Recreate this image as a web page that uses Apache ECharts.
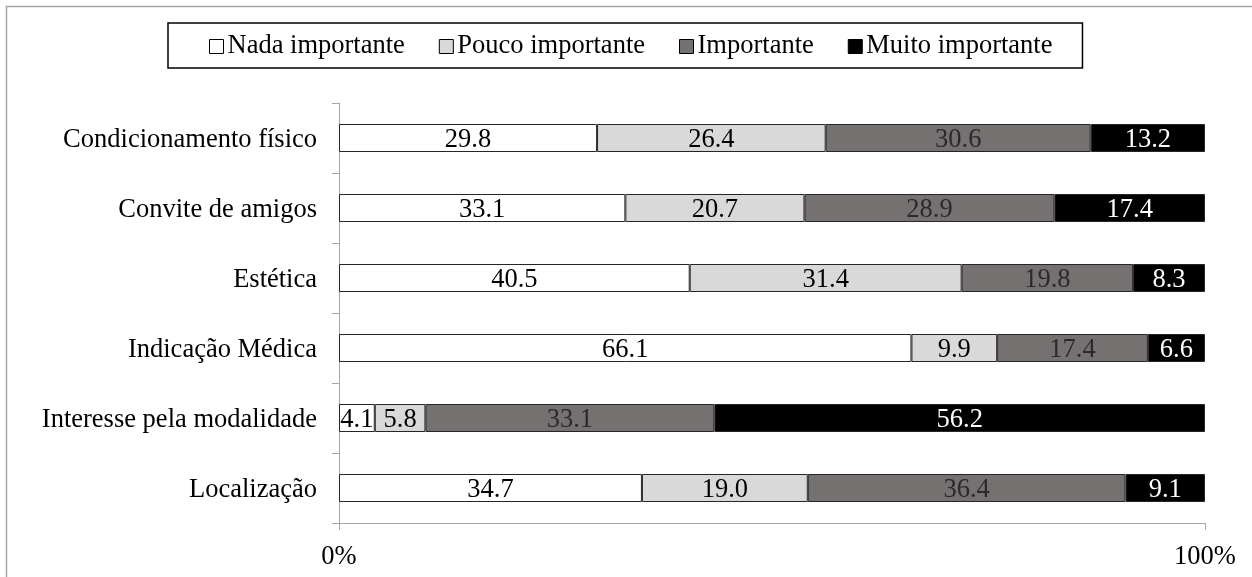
<!DOCTYPE html>
<html>
<head>
<meta charset="utf-8">
<script src="https://cdn.jsdelivr.net/npm/echarts@6/dist/echarts.min.js"></script>
<style>
  html, body { margin: 0; padding: 0; background: #fff; }
  #chart { width: 1252px; height: 577px; }
</style>
</head>
<body>
<div id="chart"></div>
<script>
// Motivos para a prática: percentual de respostas por grau de importância
const categories = [
  'Condicionamento físico',
  'Convite de amigos',
  'Estética',
  'Indicação Médica',
  'Interesse pela modalidade',
  'Localização'
];
const seriesNames = ['Nada importante', 'Pouco importante', 'Importante', 'Muito importante'];
const nadaImportante   = [29.8, 33.1, 40.5, 66.1, 4.1, 34.7];
const poucoImportante  = [26.4, 20.7, 31.4, 9.9, 5.8, 19.0];
const importante       = [30.6, 28.9, 19.8, 17.4, 33.1, 36.4];
const muitoImportante  = [13.2, 17.4, 8.3, 6.6, 56.2, 9.1];
const axisTickLabels = ['0%', '100%'];

const rawSeries = [nadaImportante, poucoImportante, importante, muitoImportante];
const fills = ['#ffffff', '#d9d9d9', '#767171', '#000000'];
const labelColors = ['#000000', '#000000', '#2a2a2a', '#ffffff'];

// 100% stacked: each row is scaled to its own total
const rowTotals = categories.map((_, i) => rawSeries.reduce((s, arr) => s + arr[i], 0));

const FONT = '"Liberation Serif", "Times New Roman", serif';
const FS = 26.5;

const series = rawSeries.map((arr, k) => ({
  name: seriesNames[k],
  type: 'bar',
  stack: 'total',
  barWidth: 28,
  data: arr.map((v, i) => ({ value: v / rowTotals[i] * 100, raw: v })),
  itemStyle: { color: fills[k], borderColor: '#262626', borderWidth: 1 },
  label: {
    show: true,
    position: 'inside',
    offset: [0, 2],
    fontFamily: FONT,
    fontSize: FS,
    color: labelColors[k],
    formatter: p => p.data.raw.toFixed(1)
  },
  emphasis: { disabled: true }
}));

const chart = echarts.init(document.getElementById('chart'), null, { renderer: 'canvas' });
chart.setOption({
  animation: false,
  backgroundColor: '#ffffff',
  textStyle: { fontFamily: FONT },
  graphic: [{
    type: 'rect',
    shape: { x: 6.5, y: 6.5, width: 1260, height: 600 },
    style: { fill: 'none', stroke: '#a6a6a6', lineWidth: 1.5 },
    silent: true,
    z: -1
  }],
  legend: {
    data: seriesNames.map((n, k) => ({
      name: n,
      itemStyle: { color: fills[k], borderColor: '#000', borderWidth: 1 }
    })),
    top: 23,
    left: 168,
    itemWidth: 14,
    itemHeight: 14,
    itemGap: 34,
    icon: 'rect',
    padding: [10, 30, 8, 41],
    borderColor: '#000',
    borderWidth: 1.5,
    textStyle: { fontFamily: FONT, fontSize: FS, color: '#000', padding: [0, 0, 0, -1] },
    selectedMode: false
  },
  grid: { left: 339, right: 47, top: 103, bottom: 54, containLabel: false },
  xAxis: {
    type: 'value',
    min: 0,
    max: 100,
    interval: 100,
    axisLine: { show: true, lineStyle: { color: '#a6a6a6', width: 1 } },
    axisTick: { show: true, length: 7, lineStyle: { color: '#a6a6a6' } },
    splitLine: { show: false },
    axisLabel: {
      fontFamily: FONT, fontSize: FS, color: '#000', margin: 21,
      formatter: v => axisTickLabels[v === 0 ? 0 : 1]
    }
  },
  yAxis: {
    type: 'category',
    inverse: true,
    data: categories,
    axisLine: { show: true, lineStyle: { color: '#a6a6a6', width: 1 } },
    axisTick: { show: true, length: 7, lineStyle: { color: '#a6a6a6' } },
    axisLabel: {
      color: '#000', margin: 22,
      formatter: v => '{c|' + v + '}',
      rich: { c: { fontFamily: FONT, fontSize: FS, color: '#000', padding: [5, 0, 0, 0] } }
    }
  },
  series
});
</script>
</body>
</html>
